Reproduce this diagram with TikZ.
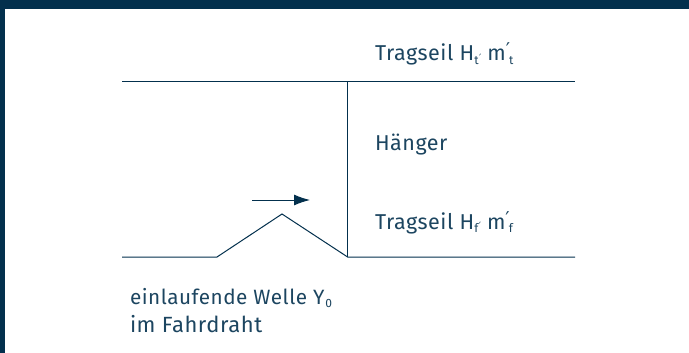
\documentclass[tikz,border=0pt]{standalone}
\usepackage{fontspec}
\setmainfont{Fira Sans}[Numbers=Lining,LetterSpace=2.5]
\newfontfamily\primefont{DejaVu Sans}
\definecolor{navy}{HTML}{03304D}
\definecolor{inkc}{HTML}{1C4560}
\usetikzlibrary{arrows.meta}
\tikzset{
  wire/.style={draw=navy,line width=1pt,line join=miter},
  lab/.style={anchor=base west,inner sep=0pt,outer sep=0pt,text=inkc,font=\fontsize{21.5}{27}\selectfont},
  wavelab/.style={lab,font=\fontsize{20.7}{27}\selectfont},
  wirelab/.style={lab,font=\fontsize{22}{27}\selectfont},
  frameband/.style={fill=navy,draw=none}
}
\newcommand{\sbs}[1]{\raisebox{-3.5pt}{\fontsize{12}{12}\selectfont #1}}
\newcommand{\smallprime}{\raisebox{3pt}{\fontsize{10}{10}\primefont\char"2032}}
\newcommand{\bigprime}{\raisebox{4pt}{\fontsize{19}{19}\primefont\char"2032}}
\begin{document}
\begin{tikzpicture}[x=1pt,y=-1pt]
\useasboundingbox (0,0) rectangle (689,353);
\fill[white] (0,0) rectangle (689,353);
\fill[frameband] (0,0) rectangle (689,9);
\fill[frameband] (0,0) rectangle (5,353);
\coordinate (tl) at (122,81.4);
\coordinate (tr) at (575,81.4);
\coordinate (ta) at (347.6,81.4);
\coordinate (ba) at (347.6,257);
\coordinate (bl) at (122,257);
\coordinate (br) at (575,257);
\coordinate (w1) at (217,257);
\coordinate (w2) at (282,214);
\coordinate (as) at (252,200);
\coordinate (ae) at (310,200);
\draw[wire] (tl) -- (tr);
\draw[wire] (ta) -- (ba);
\draw[wire] (bl) -- (w1) -- (w2) -- (ba) -- (br);
\draw[wire,-{Latex[length=16pt,width=11pt]}] (as) -- (ae);
\node[lab] (t1) at (375,61) {Tragseil H\sbs{t\kern0.5pt\smallprime}\kern6pt m\bigprime\kern-1pt\sbs{t}};
\node[lab] (t2) at (375,150) {Hänger};
\node[lab] (t3) at (375,229) {Tragseil H\sbs{f\kern0.5pt\smallprime}\kern6pt m\bigprime\kern-1pt\sbs{f}};
\node[wavelab] (t4) at (130,304) {einlaufende Welle Y\kern1pt\sbs{0}};
\node[wirelab] (t5) at (130,332) {im Fahrdraht};
\end{tikzpicture}
\end{document}
